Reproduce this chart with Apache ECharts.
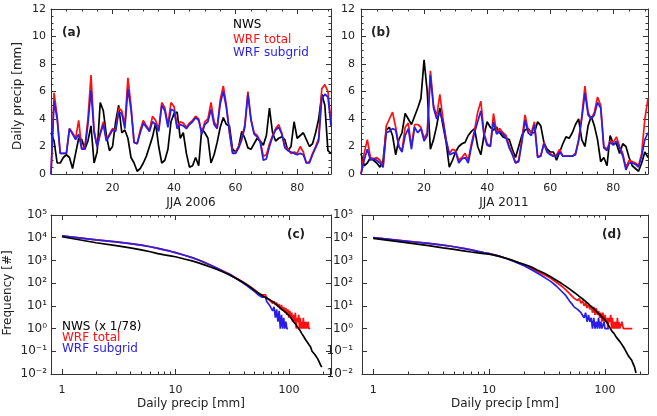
<!DOCTYPE html>
<html><head><meta charset="utf-8">
<script src="https://cdn.jsdelivr.net/npm/echarts@6/dist/echarts.min.js"></script>
<style>html,body{margin:0;padding:0;background:#fff}#c{width:657px;height:416px}</style>
</head><body><div id="c"></div>
<script>
// ---------------- DATA ----------------
const days = [0,1,2,3,4,5,6,7,8,9,10,11,12,13,14,15,16,17,18,19,20,21,22,23,24,25,26,27,28,29,30,31,32,33,34,35,36,37,38,39,40,41,42,43,44,45,46,47,48,49,50,51,52,53,54,55,56,57,58,59,60,61,62,63,64,65,66,67,68,69,70,71,72,73,74,75,76,77,78,79,80,81,82,83,84,85,86,87,88,89,90,91];
const dayTicks = [20,40,60,80];
const dayMinorTicks = [5,10,15,25,30,35,45,50,55,65,70,75,85,90];

const nws2006 = [3.0,2.4,0.8,0.8,1.2,1.4,1.2,0.4,1.5,2.6, 2.5,1.8,2.4,3.5,0.8,1.6,5.2,4.6,2.8,1.7, 2.0,3.8,5.0,3.0,3.2,2.6,1.2,0.8,0.2,0.4, 0.8,1.3,2.0,2.7,3.7,2.0,0.8,1.0,1.8,3.8, 4.4,4.5,2.6,3.0,1.5,0.5,0.6,1.2,0.6,3.3, 3.0,2.6,0.8,1.4,2.3,3.4,4.1,3.6,3.5,1.8, 1.6,2.0,3.1,2.6,1.9,1.8,2.2,2.6,2.4,2.1, 2.8,4.8,3.0,2.4,2.6,2.7,2.5,1.7,2.0,3.8, 2.6,2.8,3.0,2.5,2.0,2.2,3.0,4.0,5.8,5.0, 1.7,1.5];
const wrfTotal2006 = [0,5.9,4.2,1.5,1.5,1.5,3.3,3.0,2.6,3.9, 1.8,2.0,4.0,7.2,3.2,2.0,3.0,3.8,2.5,2.9, 3.3,3.2,4.8,4.6,3.6,7.0,5.0,2.3,2.2,3.2, 3.9,3.5,3.2,4.2,3.9,3.2,5.2,4.8,3.6,5.2, 4.9,3.4,3.8,3.7,3.4,3.7,3.9,4.2,4.0,3.0, 3.8,4.0,5.2,3.8,3.4,5.4,6.4,5.0,3.1,1.6, 1.6,2.0,2.6,3.6,6.0,4.0,3.0,2.8,2.4,1.3, 1.4,2.2,2.8,3.3,3.6,3.0,2.0,1.8,1.5,1.6, 1.5,2.0,1.6,0.8,0.9,1.5,2.0,2.6,6.2,6.5, 6.0,3.8];
const wrfSub2006 = [0,5.3,4.0,1.5,1.5,1.5,3.3,2.9,2.5,2.9, 1.8,1.8,3.6,6.1,3.0,2.0,2.9,3.6,2.4,2.8, 3.2,3.1,4.5,4.4,3.3,6.2,4.7,2.3,2.2,3.0, 3.7,3.4,3.1,3.8,3.6,3.1,5.0,4.6,3.4,4.7, 4.6,3.3,3.6,3.5,3.3,3.6,3.8,4.1,3.9,2.9, 3.6,3.8,4.7,3.6,3.3,5.1,6.0,4.8,3.0,1.5, 1.5,1.9,2.5,3.4,5.8,3.9,2.9,2.7,2.3,1.0, 1.1,2.0,2.7,3.2,3.4,2.9,1.9,1.7,1.6,1.5, 1.4,1.5,1.4,0.8,0.8,1.4,1.9,2.4,5.5,5.8, 5.6,3.5];

const nws2011 = [1.5,0.6,0.8,1.2,1.0,0.8,0.5,1.0,3.2,3.4, 2.8,1.4,2.5,3.0,4.4,4.0,3.6,4.2,4.8,5.5, 8.3,6.0,1.8,2.5,3.5,4.8,3.5,2.3,0.5,1.0, 1.6,2.0,2.2,2.3,2.8,3.1,3.3,2.0,1.4,2.8, 3.8,3.4,3.2,3.4,3.0,2.7,2.6,2.5,1.8,1.2, 2.0,2.8,3.2,3.3,3.0,3.0,3.8,3.5,2.3,1.8, 1.6,1.6,1.0,1.6,2.2,2.7,2.6,3.0,3.6,4.0, 2.5,2.0,3.5,4.2,3.5,2.5,0.9,1.2,0.6,2.8, 2.2,2.2,1.5,2.2,2.0,1.2,0.6,0.4,0.2,0.8, 1.6,1.2];
const wrfTotal2011 = [0.0,1.5,2.5,1.2,1.1,1.2,1.0,0.5,3.5,4.0, 4.5,3.4,2.0,1.7,3.4,3.7,2.0,3.6,3.6,3.4, 2.6,3.0,7.5,5.0,4.2,5.8,4.0,2.5,1.5,1.8, 1.7,1.0,1.2,1.5,1.0,2.2,3.2,4.5,5.3,3.0, 2.2,2.0,4.4,3.0,3.3,3.0,2.8,2.0,1.5,0.8, 1.0,2.5,4.3,3.2,3.0,3.8,1.3,1.3,2.3,1.6, 1.5,1.3,1.4,1.8,1.3,1.3,1.3,1.3,1.5,2.5, 4.2,6.4,4.5,4.0,4.5,5.6,5.0,2.0,1.8,2.4, 2.3,2.7,2.0,1.5,0.5,1.0,0.9,0.8,0.6,1.5, 4.0,5.5];
const wrfSub2011 = [0,1.0,1.8,1.0,1.1,1.0,0.8,0.5,3.0,3.1, 3.3,3.2,2.0,1.6,2.8,3.3,1.8,3.4,3.0,3.3, 2.4,2.8,7.2,4.8,4.0,4.5,3.8,2.4,1.4,1.5, 1.6,0.8,1.1,1.2,0.8,2.0,3.0,3.8,4.6,2.8, 2.1,2.0,3.8,2.9,3.1,2.9,2.6,1.9,1.4,0.8, 0.9,2.3,3.9,3.0,2.8,3.6,1.2,1.3,2.2,1.6, 1.4,1.3,1.3,1.6,1.3,1.3,1.3,1.3,1.4,2.4, 4.0,5.9,4.3,4.0,4.3,5.2,4.8,1.9,1.7,2.3, 2.1,2.4,1.9,1.3,0.3,0.8,0.8,0.7,0.5,1.3, 2.5,3.0];

// Frequency distributions (bin x in mm, frequency)
const nwsBins = [1,2,3,4,5,6,7,8,9,10,12,14,16,18,20,23,26,30,34,38,42,46,50,55,60,65,70,75,80,85,90,95,100,105,110,115,120,125,130,135,140,145,150,155,160,165,170,175,180,185,190,195];
const nwsFreq2006 = [11000,6000,4500,3600,2900,2400,2000,1750,1600,1450,1150,950,780,640,525,410,320,230,165,120,88,65,47,34,26,21,17,13,10,7.5,6,4.8,3.8,2.8,2.0,1.5,1.1,0.85,0.6,0.45,0.33,0.28,0.2,0.16,0.1,0.12,0.07,0.08,0.045,0.05,0.025,0.02];
const nwsBins2011 = [1,2,3,4,5,6,7,8,9,10,12,14,16,18,20,23,26,30,34,38,42,46,50,55,60,65,70,75,80,85,90,95,100,105,110,115,120,125,130,135,140,145,150,155,160,165,170,175,180,185];
const nwsFreq2011 = [9400,5900,4500,3600,3050,2650,2350,2150,2000,1900,1550,1250,1000,800,680,520,380,270,190,135,98,72,53,37,26,19,14,10,7.5,5.5,4.2,3.1,2.4,1.7,1.1,0.75,0.6,0.42,0.35,0.26,0.22,0.15,0.11,0.09,0.06,0.07,0.04,0.045,0.02,0.011];

const totBins2006 = [1,2,3,4,5,6,7,8,9,10,12,14,16,18,20,23,26,30,34,38,42,46,50,52,54,56,58,60,62,64,66,68,70,72,74,76,78,80,82,84,86,88,90,92,94,96,98,100,102,104,106,108,110,112,114,116,118,120,122,124,126,128,130,132,134,136,138,140,142,144,146,148,150,152,154,156];
const totFreq2006 = [12000,8000,6600,5500,4700,4000,3400,2900,2550,2200,1700,1350,1050,820,650,470,350,250,175,125,92,68,50,44,36,40,30,27,31,22,24,17,20,13,16,11,14,9,12,7,11,6,9,5,8,4,7,3,6,3,5,2,4,2,5,1,3,2,4,1,3,1,2,1,3,1,2,1,2,1,1,2,1,1,1,1];
const subBins2006 = [1,2,3,4,5,6,7,8,9,10,12,14,16,18,20,23,26,30,34,38,42,46,50,52,54,56,58,60,62,64,66,68,70,72,74,76,78,80,82,84,86,88,90,92,94,96,98];
const subFreq2006 = [12000,8000,6600,5500,4700,4000,3400,2900,2550,2200,1700,1330,1040,810,640,460,340,240,165,115,82,58,42,38,30,33,24,20,24,15,17,10,12,6,9,3,7,2,6,1,4,1,3,1,2,1,1];

const totBins2011 = [1,2,3,4,5,6,7,8,9,10,12,14,16,18,20,23,26,30,34,38,42,46,50,52,54,56,58,60,62,64,66,68,70,72,74,76,78,80,82,84,86,88,90,92,94,96,98,100,102,104,106,108,110,112,114,116,118,120,122,124,126,128,130,132,134,136,140,144,148,152,156,160,164,168,172];
const totFreq2011 = [10000,7000,5600,4700,4000,3400,2900,2500,2200,2000,1600,1250,980,780,620,450,330,235,165,110,75,50,33,28,22,26,17,21,13,17,10,14,8,12,7,10,5,9,4,8,4,6,3,5,2,5,2,4,2,3,1,3,2,4,1,3,1,2,1,2,1,3,1,2,1,1,2,1,1,1,1,1,1,1,1];
const subBins2011 = [1,2,3,4,5,6,7,8,9,10,12,14,16,18,20,23,26,30,34,38,42,46,50,52,54,56,58,60,62,64,66,68,70,72,74,76,78,80,82,84,86,88,90,92,94,96,98,100,102,104,106,108];
const subFreq2011 = [10000,7000,5600,4700,4000,3400,2900,2500,2200,2000,1580,1220,950,740,580,400,280,180,120,75,45,28,15,12,9,11,7,8,5,6,3,5,2,4,2,3,1,3,1,2,1,3,1,2,1,1,2,1,1,1,1,1];

const precipTicks = [1,10,100];
const precipMinorTicks = [2,3,4,5,6,7,8,9,20,30,40,50,60,70,80,90,200];
const freqTicks = [0.01,0.1,1,10,100,1000,10000,100000];
const freqTickLabels = ['10\u207B\u00B2','10\u207B\u00B9','10\u2070','10\u00B9','10\u00B2','10\u00B3','10\u2074','10\u2075'];

// ---------------- STYLE ----------------
const FONT = 'DejaVu Sans';
const AXC = '#333';
const TXT = '#222';
const RED = '#ff1010', BLUE = '#2a1ee6', BLACK = '#000';

const grids = [
  {left:51, top:9, width:280, height:165},
  {left:361, top:9, width:287, height:165},
  {left:51, top:215, width:280, height:159},
  {left:362, top:215, width:286, height:159}
];

const xAxes = [], yAxes = [];
const lineS = {color:AXC, width:1};
function baseX(gi, pos, kind, showLine, ticks, tickLen, labels, margin){
  const a = {gridIndex:gi, position:pos, splitLine:{show:false},
    axisLine:{show:showLine, onZero:false, lineStyle:lineS},
    axisTick:{show:true, inside:true, length:tickLen, customValues:ticks, lineStyle:lineS},
    axisLabel:labels ? {customValues:labels, margin:margin, fontSize:11, color:TXT, fontFamily:FONT} : {show:false}
  };
  if (kind === 'time') { a.type='value'; a.min=0; a.max=91; }
  else { a.type='log'; a.logBase=10; a.min=0.8; a.max=235; }
  xAxes.push(a); return xAxes.length-1;
}
function panelX(gi, kind){
  const major = kind==='time' ? dayTicks : precipTicks;
  const minor = kind==='time' ? dayMinorTicks : precipMinorTicks;
  const idx = baseX(gi,'bottom',kind,true,major,5,major, kind==='time'?9:11);
  baseX(gi,'bottom',kind,false,minor,2.5,null);
  baseX(gi,'top',kind,true,major,5,null);
  baseX(gi,'top',kind,false,minor,2.5,null);
  return idx;
}
function supFmt(v){
  const e = Math.round(Math.log10(v));
  return freqTickLabels[e + 2];
}
function panelY(gi, kind, margin){
  const mk = (pos, labels) => {
    const a = {gridIndex:gi, position:pos, splitLine:{show:false},
      axisLine:{show:true, onZero:false, lineStyle:lineS}};
    if (kind==='time') {
      a.type='value'; a.min=0; a.max=12; a.interval=2;
      a.axisTick={show:true, inside:true, length:5, lineStyle:lineS};
      a.minorTick={show:true, splitNumber:4, length:2.5, lineStyle:lineS};
      a.axisLabel = labels ? {margin:margin, fontSize:11, color:TXT, fontFamily:FONT} : {show:false};
    } else {
      a.type='log'; a.logBase=10; a.min=0.01; a.max=100000;
      a.axisTick={show:true, inside:true, length:5, customValues:freqTicks, lineStyle:lineS};
      a.axisLabel = labels ? {customValues:freqTicks, margin:margin, formatter:supFmt,
        fontSize:12, fontFamily:FONT, color:TXT} : {show:false};
    }
    yAxes.push(a); return yAxes.length-1;
  };
  const idx = mk('left', true);
  mk('right', false);
  return idx;
}

const xa = panelX(0,'time'), ya = panelY(0,'time',5);
const xb = panelX(1,'time'), yb = panelY(1,'time',6);
const xc = panelX(2,'log'),  yc = panelY(2,'log',4);
const xd = panelX(3,'log'),  yd = panelY(3,'log',9);

function ts(xi, yi, vals, color){
  return {type:'line', xAxisIndex:xi, yAxisIndex:yi, symbol:'none', silent:true,
    data: days.map((d,i)=>[d, vals[i]]), lineStyle:{color:color, width:1.7}};
}
function dist(xi, yi, bins, vals, color){
  return {type:'line', xAxisIndex:xi, yAxisIndex:yi, symbol:'none', silent:true,
    data: bins.map((b,i)=>[b, vals[i]]), lineStyle:{color:color, width:1.7}};
}

const series = [
  ts(xa, ya, nws2006, BLACK), ts(xa, ya, wrfTotal2006, RED), ts(xa, ya, wrfSub2006, BLUE),
  ts(xb, yb, nws2011, BLACK), ts(xb, yb, wrfTotal2011, RED), ts(xb, yb, wrfSub2011, BLUE),
  dist(xc, yc, totBins2006, totFreq2006, RED), dist(xc, yc, subBins2006, subFreq2006, BLUE), dist(xc, yc, nwsBins, nwsFreq2006, BLACK),
  dist(xd, yd, totBins2011, totFreq2011, RED), dist(xd, yd, subBins2011, subFreq2011, BLUE), dist(xd, yd, nwsBins2011, nwsFreq2011, BLACK)
];

function txt(x, y, s, color, opts){
  return Object.assign({type:'text', x:x, y:y, silent:true,
    style:Object.assign({text:s, fill:color||TXT, font:'12px "DejaVu Sans"', textAlign:'left', textVerticalAlign:'middle'}, (opts&&opts.style)||{})},
    opts && opts.rotation!==undefined ? {rotation:opts.rotation} : {});
}
const graphics = [
  txt(62, 33, '(a)', TXT, {style:{font:'bold 12px "DejaVu Sans"'}}),
  txt(371, 33, '(b)', TXT, {style:{font:'bold 12px "DejaVu Sans"'}}),
  txt(287, 235, '(c)', TXT, {style:{font:'bold 12px "DejaVu Sans"'}}),
  txt(602, 235, '(d)', TXT, {style:{font:'bold 12px "DejaVu Sans"'}}),
  txt(233, 25, 'NWS', BLACK),
  txt(233, 39.5, 'WRF total', RED),
  txt(233, 53, 'WRF subgrid', BLUE),
  txt(62, 326.5, 'NWS (x 1/78)', BLACK),
  txt(62, 337.5, 'WRF total', RED),
  txt(62, 349, 'WRF subgrid', BLUE),
  txt(191, 203, 'JJA 2006', TXT, {style:{textAlign:'center'}}),
  txt(504, 203, 'JJA 2011', TXT, {style:{textAlign:'center'}}),
  txt(191, 404, 'Daily precip [mm]', TXT, {style:{textAlign:'center'}}),
  txt(505, 404, 'Daily precip [mm]', TXT, {style:{textAlign:'center'}}),
  txt(18, 96, 'Daily precip [mm]', TXT, {rotation:Math.PI/2, style:{textAlign:'center'}}),
  txt(8, 293, 'Frequency [#]', TXT, {rotation:Math.PI/2, style:{textAlign:'center'}})
];

const chart = echarts.init(document.getElementById('c'), null, {renderer:'canvas', width:657, height:416});
chart.setOption({
  animation:false,
  backgroundColor:'#fff',
  grid: grids,
  xAxis: xAxes,
  yAxis: yAxes,
  series: series,
  graphic: graphics
});
</script>
</body></html>
